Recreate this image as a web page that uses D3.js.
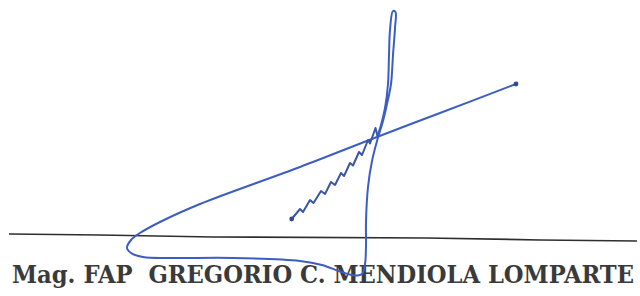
<!DOCTYPE html>
<html>
<head>
<meta charset="utf-8">
<script src="https://cdn.jsdelivr.net/npm/d3@7"></script>
<style>
  html, body { margin: 0; padding: 0; background: #fff; }
  svg { display: block; }
</style>
</head>
<body>
<div id="chart"></div>
<script>
// signature, in picture coordinates [x, y]
var zigzagStroke = [
  [291.7, 219], [300, 209], [303, 212], [310, 200], [313.5, 203],
  [321, 191], [325, 194], [331, 182], [335, 185], [341, 173],
  [344, 176], [350, 163], [353, 165.5], [359, 152], [362, 155],
  [368, 140], [370, 143.5], [375.5, 128], [377.5, 136]
];

var loopStroke = [
  [377.5, 136], [381, 125], [385, 108], [388, 84], [389, 55], [390, 30],
  [393, 11], [395.5, 12], [395, 28], [393, 55], [391, 84], [387, 104],
  [383, 121], [377, 141], [372, 161], [368, 187], [366, 222], [366, 245],
  [365, 264], [362, 274], [355, 275.5], [340, 271.5], [322, 265], [300, 261],
  [233, 258], [170, 258], [143, 257], [131, 253], [127, 248], [131, 240],
  [140, 233], [160, 222], [200, 204], [300, 167], [377, 137], [440, 113],
  [516, 84]
];

var strokeDots = [[291.7, 219], [516, 84]];

var ruleLine = [[9, 234], [100, 235], [213, 237], [426, 238], [540, 240], [637, 241]];

var nameLabel = "Mag. FAP  GREGORIO C. MENDIOLA LOMPARTE";

var width = 640, height = 296;

var x = d3.scaleLinear().domain([0, 640]).range([0, width]);
var y = d3.scaleLinear().domain([0, 296]).range([0, height]);

var svg = d3.select("#chart").append("svg")
    .attr("width", width)
    .attr("height", height);

var straight = d3.line()
    .x(function(d) { return x(d[0]); })
    .y(function(d) { return y(d[1]); });

var smooth = d3.line()
    .x(function(d) { return x(d[0]); })
    .y(function(d) { return y(d[1]); })
    .curve(d3.curveCatmullRom.alpha(0.5));

// the printed rule under the signature
svg.append("path")
    .attr("d", straight(ruleLine))
    .attr("fill", "none")
    .attr("stroke", "#2e2e2e")
    .attr("stroke-width", 1.7);

svg.append("text")
    .attr("x", x(12))
    .attr("y", y(283))
    .attr("textLength", 622)
    .attr("lengthAdjust", "spacingAndGlyphs")
    .style("white-space", "pre")
    .style("font-family", "'DejaVu Serif', 'Liberation Serif', serif")
    .style("font-stretch", "condensed")
    .style("font-weight", "bold")
    .style("font-size", "24.5px")
    .attr("fill", "#3a3a3a")
    .text(nameLabel);

// ink
var ink = "#3c5ec4";

svg.append("path")
    .attr("d", smooth(loopStroke))
    .attr("fill", "none")
    .attr("stroke", ink)
    .attr("stroke-width", 2)
    .attr("stroke-linejoin", "round")
    .attr("stroke-linecap", "round");

svg.append("path")
    .attr("d", straight(zigzagStroke))
    .attr("fill", "none")
    .attr("stroke", "#3b55a8")
    .attr("stroke-width", 2)
    .attr("stroke-linejoin", "round")
    .attr("stroke-linecap", "round");

svg.selectAll(".dot")
    .data(strokeDots)
  .enter().append("circle")
    .attr("class", "dot")
    .attr("cx", function(d) { return x(d[0]); })
    .attr("cy", function(d) { return y(d[1]); })
    .attr("r", 2.4)
    .attr("fill", "#34489a");
</script>
</body>
</html>
